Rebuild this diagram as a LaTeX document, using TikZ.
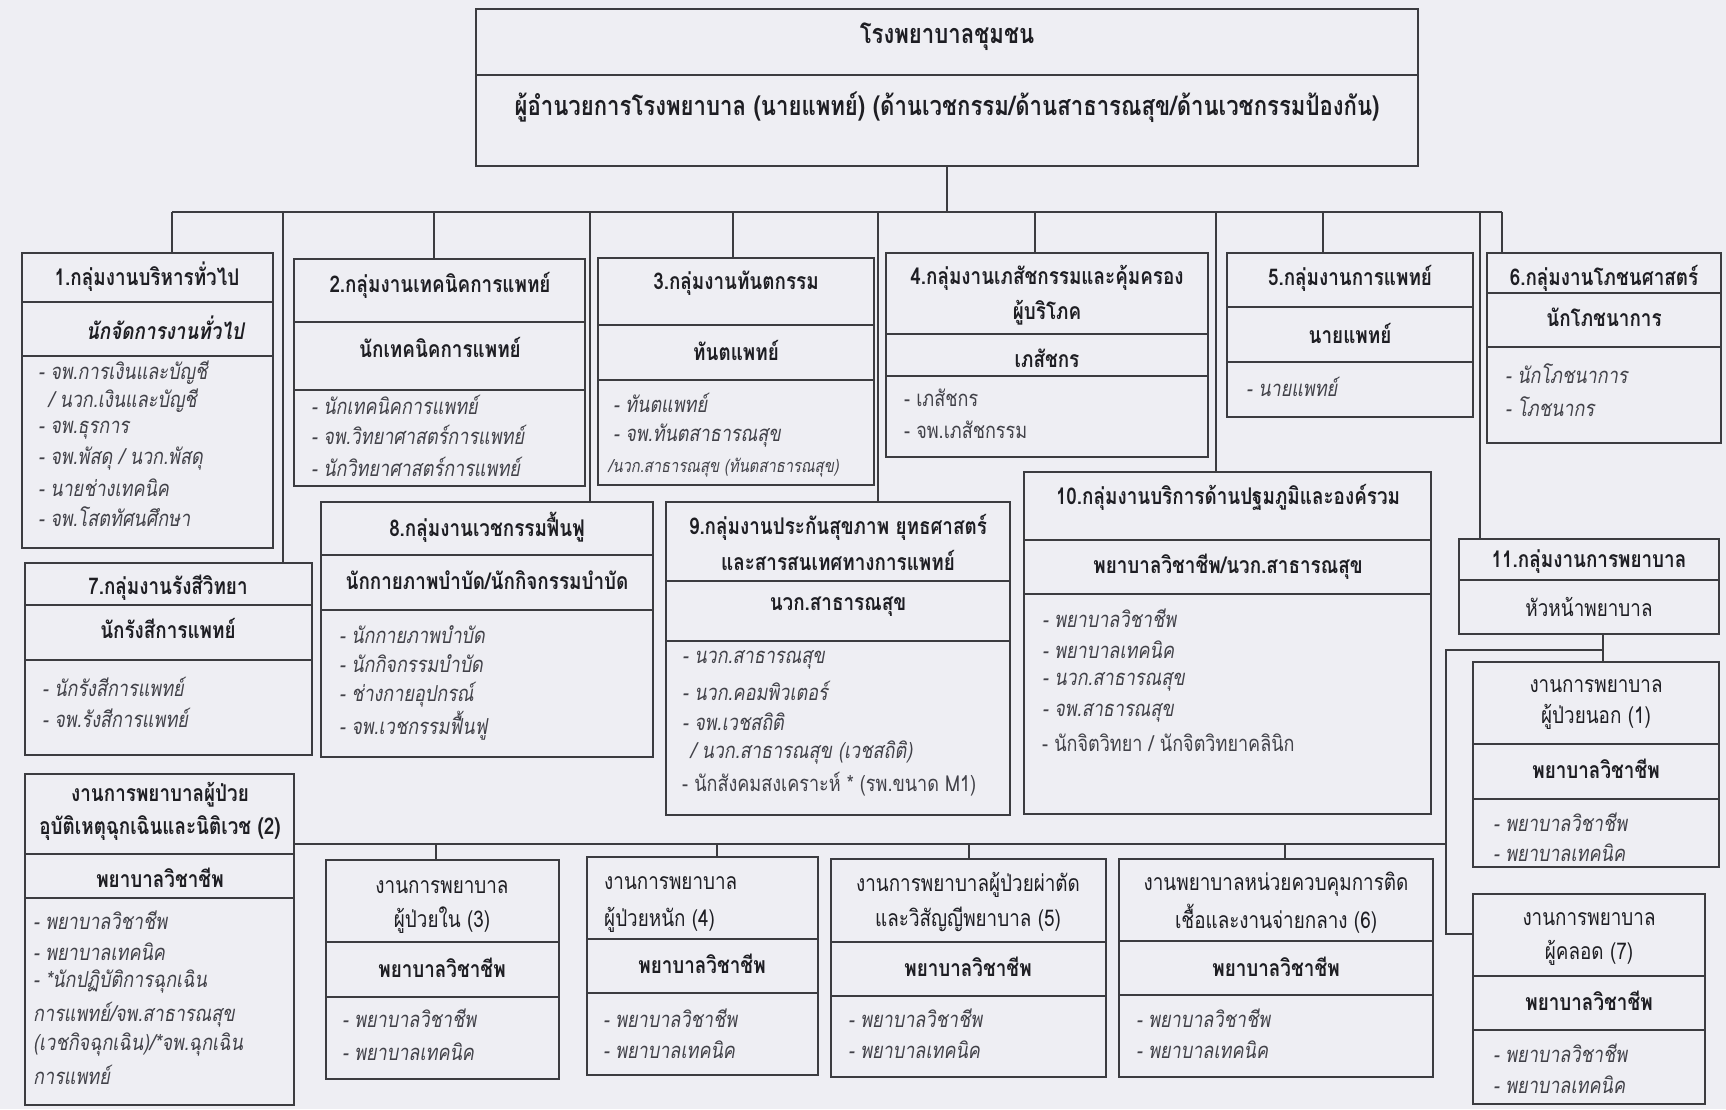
\documentclass[tikz,border=0pt]{standalone}
\usepackage{fontspec}
\setmainfont[Script=Thai, FakeStretch=0.82]{Loma}
\definecolor{bg}{RGB}{238,238,243}
\definecolor{lc}{RGB}{60,60,64}
\definecolor{tc}{RGB}{30,30,35}
\definecolor{ic}{RGB}{65,65,72}
\newcommand\hf{\fontsize{23}{26}\selectfont\bfseries}
\newcommand\rf{\fontsize{23}{26}\selectfont}
\newcommand\itf{\fontsize{22}{25}\selectfont\itshape}
\newcommand\upf{\fontsize{22}{25}\selectfont}
\tikzset{
  ln/.style={line width=1.7pt, draw=lc},
  obox/.style={draw=lc, line width=1.7pt, inner sep=0pt, outer sep=0pt},
  hd/.style={inner sep=0pt, font=\hf, text=tc},
  rg/.style={inner sep=0pt, font=\rf, text=tc},
  tp/.style={inner sep=0pt, font=\fontsize{27}{30}\selectfont\bfseries, text=tc},
  it/.style={inner sep=0pt, anchor=west, font=\itf, text=ic},
  up/.style={inner sep=0pt, anchor=west, font=\upf, text=ic},
  hl/.style={inner sep=0pt, anchor=west, font=\rf, text=tc},
}
\newcommand\obox[5]{\node[obox,anchor=north west,minimum width={(#4-#2)*1pt},minimum height={(#5-#3)*1pt}] (#1) at (#2,#3) {};}
\newcommand\odiv[2]{\coordinate (dv) at (0,#2); \draw[ln] (#1.west |- dv) -- (#1.east |- dv);}
\begin{document}
\begin{tikzpicture}[x=1pt,y=-1pt]
\useasboundingbox (0,0) rectangle (1726,1109);
\fill[bg] (0,0) rectangle (1726,1109);
% boxes
\obox{top}{476}{9}{1418}{166} \odiv{top}{75}
\obox{b1}{22}{253}{273}{548} \odiv{b1}{302} \odiv{b1}{356}
\obox{b2}{294}{259}{585}{486} \odiv{b2}{322} \odiv{b2}{390}
\obox{b3}{598}{258}{874}{485} \odiv{b3}{325} \odiv{b3}{380}
\obox{b4}{886}{253}{1208}{457} \odiv{b4}{334} \odiv{b4}{376}
\obox{b5}{1227}{253}{1473}{417} \odiv{b5}{307} \odiv{b5}{362}
\obox{b6}{1487}{253}{1721}{443} \odiv{b6}{293} \odiv{b6}{347}
\obox{b7}{25}{563}{312}{755} \odiv{b7}{605} \odiv{b7}{660}
\obox{b8}{321}{502}{653}{757} \odiv{b8}{555} \odiv{b8}{610}
\obox{b9}{666}{502}{1010}{815} \odiv{b9}{581} \odiv{b9}{641}
\obox{b10}{1024}{472}{1431}{814} \odiv{b10}{540} \odiv{b10}{594}
\obox{b11}{1459}{539}{1719}{634} \odiv{b11}{580}
\obox{n1}{1473}{662}{1719}{867} \odiv{n1}{744} \odiv{n1}{799}
\obox{n7}{1473}{894}{1705}{1104} \odiv{n7}{976} \odiv{n7}{1030}
\obox{n2}{25}{774}{294}{1105} \odiv{n2}{854} \odiv{n2}{898}
\obox{n3}{326}{860}{559}{1079} \odiv{n3}{942} \odiv{n3}{997}
\obox{n4}{587}{857}{818}{1075} \odiv{n4}{939} \odiv{n4}{993}
\obox{n5}{831}{859}{1106}{1077} \odiv{n5}{942} \odiv{n5}{996}
\obox{n6}{1119}{859}{1433}{1077} \odiv{n6}{941} \odiv{n6}{995}
% connectors
\coordinate (t1) at (172,212); \coordinate (t7) at (283,212);
\coordinate (t2) at (434,212); \coordinate (t8) at (590,212);
\coordinate (t3) at (733,212); \coordinate (t9) at (878,212);
\coordinate (t4) at (1035,212); \coordinate (t10) at (1216,212);
\coordinate (t5) at (1323,212); \coordinate (t11) at (1480,212);
\coordinate (t6) at (1502,212);
\draw[ln] (top.south) -- (top.south |- t1);
\draw[ln] (t1) -- (t6);
\draw[ln] (t1) -- (t1 |- b1.north);
\draw[ln] (t7) -- (t7 |- b7.north);
\draw[ln] (t2) -- (t2 |- b2.north);
\draw[ln] (t8) -- (t8 |- b8.north);
\draw[ln] (t3) -- (t3 |- b3.north);
\draw[ln] (t9) -- (t9 |- b9.north);
\draw[ln] (t4) -- (t4 |- b4.north);
\draw[ln] (t10) -- (t10 |- b10.north);
\draw[ln] (t5) -- (t5 |- b5.north);
\draw[ln] (t11) -- (t11 |- b11.north);
\draw[ln] (t6) -- (t6 |- b6.north);
\coordinate (j1) at (1603,650); \coordinate (j2) at (1446,650);
\coordinate (j3) at (1446,844); \coordinate (j4) at (1446,934);
\draw[ln] (b11.south -| j1) -- (j1 |- n1.north);
\draw[ln] (j1) -- (j2) -- (j4) -- (j4 -| n7.west);
\draw[ln] (j3) -- (j3 -| n2.east);
\coordinate (u3) at (436,844); \coordinate (u4) at (717,844);
\coordinate (u5) at (969,844); \coordinate (u6) at (1285,844);
\draw[ln] (u3) -- (u3 |- n3.north);
\draw[ln] (u4) -- (u4 |- n4.north);
\draw[ln] (u5) -- (u5 |- n5.north);
\draw[ln] (u6) -- (u6 |- n6.north);
% top text
\node[tp] (tt1) at (947,37) {โรงพยาบาลชุมชน};
\node[tp] (tt2) at (947,107) {ผู้อำนวยการโรงพยาบาล (นายแพทย์) (ด้านเวชกรรม/ด้านสาธารณสุข/ด้านเวชกรรมป้องกัน)};
% box 1
\node[hd] (b1h) at (147,277) {1.กลุ่มงานบริหารทั่วไป};
\node[hd, font=\hf\itshape] (b1s) at (165,328) {นักจัดการงานทั่วไป};
\node[it] (b1a) at (38,373) {- จพ.การเงินและบัญชี};
\node[it] (b1b) at (48,401) {/ นวก.เงินและบัญชี};
\node[it] (b1c) at (38,430) {- จพ.ธุรการ};
\node[it] (b1d) at (38,459) {- จพ.พัสดุ / นวก.พัสดุ};
\node[it] (b1e) at (38,488) {- นายช่างเทคนิค};
\node[it] (b1f) at (38,517) {- จพ.โสตทัศนศึกษา};
% box 2
\node[hd] (b2h) at (440,285) {2.กลุ่มงานเทคนิคการแพทย์};
\node[hd] (b2s) at (440,347) {นักเทคนิคการแพทย์};
\node[it] (b2a) at (311,405) {- นักเทคนิคการแพทย์};
\node[it] (b2b) at (311,435) {- จพ.วิทยาศาสตร์การแพทย์};
\node[it] (b2c) at (311,467) {- นักวิทยาศาสตร์การแพทย์};
% box 3
\node[hd] (b3h) at (736,283) {3.กลุ่มงานทันตกรรม};
\node[hd] (b3s) at (736,350) {ทันตแพทย์};
\node[it] (b3a) at (613,403) {- ทันตแพทย์};
\node[it] (b3b) at (613,436) {- จพ.ทันตสาธารณสุข};
\node[it, font=\fontsize{18}{20}\selectfont\itshape] (b3c) at (608,468) {/นวก.สาธารณสุข (ทันตสาธารณสุข)};
% box 4
\node[hd] (b4h) at (1047,278) {4.กลุ่มงานเภสัชกรรมและคุ้มครอง};
\node[hd] (b4g) at (1047,313) {ผู้บริโภค};
\node[hd] (b4s) at (1047,358) {เภสัชกร};
\node[up] (b4a) at (904,398) {- เภสัชกร};
\node[up] (b4b) at (904,430) {- จพ.เภสัชกรรม};
% box 5
\node[hd] (b5h) at (1350,278) {5.กลุ่มงานการแพทย์};
\node[hd] (b5s) at (1350,333) {นายแพทย์};
\node[it] (b5a) at (1246,387) {- นายแพทย์};
% box 6
\node[hd] (b6h) at (1604,278) {6.กลุ่มงานโภชนศาสตร์};
\node[hd] (b6s) at (1604,317) {นักโภชนาการ};
\node[it] (b6a) at (1505,374) {- นักโภชนาการ};
\node[it] (b6b) at (1505,407) {- โภชนากร};
% box 7
\node[hd] (b7h) at (168,588) {7.กลุ่มงานรังสีวิทยา};
\node[hd] (b7s) at (168,628) {นักรังสีการแพทย์};
\node[it] (b7a) at (42,687) {- นักรังสีการแพทย์};
\node[it] (b7b) at (42,718) {- จพ.รังสีการแพทย์};
% box 8
\node[hd] (b8h) at (487,527) {8.กลุ่มงานเวชกรรมฟื้นฟู};
\node[hd] (b8s) at (487,580) {นักกายภาพบำบัด/นักกิจกรรมบำบัด};
\node[it] (b8a) at (339,635) {- นักกายภาพบำบัด};
\node[it] (b8b) at (339,664) {- นักกิจกรรมบำบัด};
\node[it] (b8c) at (339,695) {- ช่างกายอุปกรณ์};
\node[it] (b8d) at (339,726) {- จพ.เวชกรรมฟื้นฟู};
% box 9
\node[hd] (b9h) at (838,527) {9.กลุ่มงานประกันสุขภาพ ยุทธศาสตร์};
\node[hd] (b9g) at (838,560) {และสารสนเทศทางการแพทย์};
\node[hd] (b9s) at (838,607) {นวก.สาธารณสุข};
\node[it] (b9a) at (682,660) {- นวก.สาธารณสุข};
\node[it] (b9b) at (682,691) {- นวก.คอมพิวเตอร์};
\node[it] (b9c) at (682,722) {- จพ.เวชสถิติ};
\node[it] (b9d) at (690,753) {/ นวก.สาธารณสุข (เวชสถิติ)};
\node[up] (b9e) at (682,784) {- นักสังคมสงเคราะห์ * (รพ.ขนาด M1)};
% box 10
\node[hd] (b10h) at (1228,497) {10.กลุ่มงานบริการด้านปฐมภูมิและองค์รวม};
\node[hd] (b10s) at (1228,567) {พยาบาลวิชาชีพ/นวก.สาธารณสุข};
\node[it] (b10a) at (1042,618) {- พยาบาลวิชาชีพ};
\node[it] (b10b) at (1042,650) {- พยาบาลเทคนิค};
\node[it] (b10c) at (1042,682) {- นวก.สาธารณสุข};
\node[it] (b10d) at (1042,713) {- จพ.สาธารณสุข};
\node[up] (b10e) at (1042,743) {- นักจิตวิทยา / นักจิตวิทยาคลินิก};
% box 11
\node[hd] (b11h) at (1589,562) {11.กลุ่มงานการพยาบาล};
\node[rg] (b11s) at (1589,607) {หัวหน้าพยาบาล};
% n1
\node[rg] (n1h) at (1596,686) {งานการพยาบาล};
\node[rg] (n1g) at (1596,717) {ผู้ป่วยนอก (1)};
\node[hd] (n1s) at (1596,769) {พยาบาลวิชาชีพ};
\node[it] (n1a) at (1493,822) {- พยาบาลวิชาชีพ};
\node[it] (n1b) at (1493,853) {- พยาบาลเทคนิค};
% n7
\node[rg] (n7h) at (1589,919) {งานการพยาบาล};
\node[rg] (n7g) at (1589,953) {ผู้คลอด (7)};
\node[hd] (n7s) at (1589,1001) {พยาบาลวิชาชีพ};
\node[it] (n7a) at (1493,1053) {- พยาบาลวิชาชีพ};
\node[it] (n7b) at (1493,1085) {- พยาบาลเทคนิค};
% n2
\node[hd] (n2h) at (160,795) {งานการพยาบาลผู้ป่วย};
\node[hd] (n2g) at (160,828) {อุบัติเหตุฉุกเฉินและนิติเวช (2)};
\node[hd] (n2s) at (160,878) {พยาบาลวิชาชีพ};
\node[it] (n2a) at (33,920) {- พยาบาลวิชาชีพ};
\node[it] (n2b) at (33,952) {- พยาบาลเทคนิค};
\node[it] (n2c) at (33,982) {- *นักปฏิบัติการฉุกเฉิน};
\node[it] (n2d) at (33,1015) {การแพทย์/จพ.สาธารณสุข};
\node[it] (n2e) at (33,1045) {(เวชกิจฉุกเฉิน)/*จพ.ฉุกเฉิน};
\node[it] (n2f) at (33,1075) {การแพทย์};
% n3
\node[rg] (n3h) at (442,887) {งานการพยาบาล};
\node[rg] (n3g) at (442,920) {ผู้ป่วยใน (3)};
\node[hd] (n3s) at (442,968) {พยาบาลวิชาชีพ};
\node[it] (n3a) at (342,1018) {- พยาบาลวิชาชีพ};
\node[it] (n3b) at (342,1052) {- พยาบาลเทคนิค};
% n4
\node[hl] (n4h) at (604,883) {งานการพยาบาล};
\node[hl] (n4g) at (604,920) {ผู้ป่วยหนัก (4)};
\node[hd] (n4s) at (702,964) {พยาบาลวิชาชีพ};
\node[it] (n4a) at (603,1018) {- พยาบาลวิชาชีพ};
\node[it] (n4b) at (603,1050) {- พยาบาลเทคนิค};
% n5
\node[rg] (n5h) at (968,885) {งานการพยาบาลผู้ป่วยผ่าตัด};
\node[rg] (n5g) at (968,919) {และวิสัญญีพยาบาล (5)};
\node[hd] (n5s) at (968,967) {พยาบาลวิชาชีพ};
\node[it] (n5a) at (848,1018) {- พยาบาลวิชาชีพ};
\node[it] (n5b) at (848,1050) {- พยาบาลเทคนิค};
% n6
\node[rg] (n6h) at (1276,884) {งานพยาบาลหน่วยควบคุมการติด};
\node[rg] (n6g) at (1276,919) {เชื้อและงานจ่ายกลาง (6)};
\node[hd] (n6s) at (1276,967) {พยาบาลวิชาชีพ};
\node[it] (n6a) at (1136,1018) {- พยาบาลวิชาชีพ};
\node[it] (n6b) at (1136,1050) {- พยาบาลเทคนิค};
\end{tikzpicture}
\end{document}
